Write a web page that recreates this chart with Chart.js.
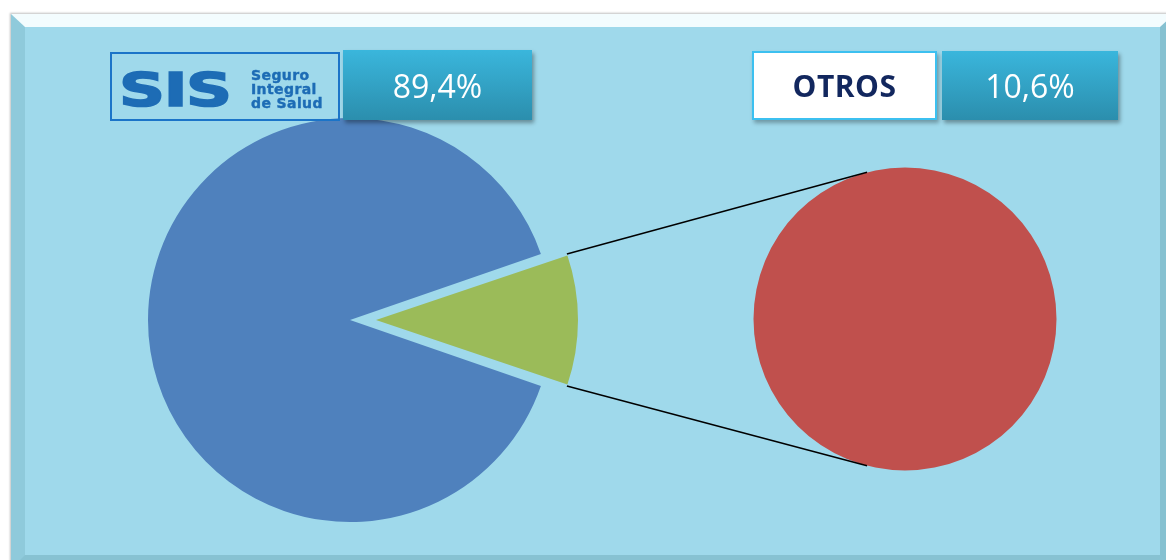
<!DOCTYPE html>
<html>
<head>
<meta charset="utf-8">
<script src="https://cdn.jsdelivr.net/npm/chart.js@4"></script>
<style>
    html, body { margin: 0; padding: 0; background: #ffffff; overflow: hidden; }
    #stage { position: relative; width: 1166px; height: 560px; overflow: hidden; }
    #frame {
        position: absolute; left: 11px; top: 14px; width: 1135px; height: 528px;
        background: #9fd9eb;
        border-style: solid; border-width: 13px 14px 14px 14px;
        border-color: #f3fcfe #86c1d1 #87c2d2 #8fcadb;
        box-shadow: -1px -1px 2px rgba(0, 0, 0, 0.25);
    }
    canvas { position: absolute; left: 0; top: 0; }
    .box { position: absolute; box-sizing: border-box; display: flex; align-items: center; justify-content: center; }
    .value {
        background: linear-gradient(#3ab6dc, #2b8ead);
        box-shadow: 2px 3px 4px rgba(0, 0, 0, 0.35);
        color: #ffffff; font-family: "Open Sans", sans-serif; font-size: 32px;
    }
    #logo { left: 110px; top: 52px; width: 230px; height: 69px; border: 2px solid #1b74c8; justify-content: flex-start; padding-top: 5px; }
    #logo .big {
        font-family: "DejaVu Sans", sans-serif; font-weight: bold; font-size: 47px; color: #1d6cb5;
        -webkit-text-stroke: 1.6px #1d6cb5;
        transform: scaleX(1.36); transform-origin: left center; margin-left: 7px; width: 128px; letter-spacing: -1px;
    }
    #logo .small {
        font-family: "DejaVu Sans", sans-serif; font-weight: bold; font-size: 14px; line-height: 14px;
        -webkit-text-stroke: 0.4px #1d6cb5;
        color: #1d6cb5; letter-spacing: 0.4px; margin-left: 4px;
    }
    #otrosName {
        left: 752px; top: 51px; width: 185px; height: 69px; background: #ffffff; border: 2px solid #3cc0f0;
        box-shadow: 2px 3px 4px rgba(0, 0, 0, 0.3);
        color: #12275e; font-family: "Open Sans", sans-serif; font-weight: bold; font-size: 30px; letter-spacing: 0.5px;
    }
</style>
</head>
<body>
<div id="stage">
    <div id="frame"></div>
    <canvas id="pieMain" width="1166" height="560"></canvas>
    <canvas id="pieSub" width="1166" height="560"></canvas>
    <div class="box" id="logo"><div class="big">SIS</div><div class="small">Seguro<br>Integral<br>de Salud</div></div>
    <div class="box value" id="sisValue" style="left:343px; top:50px; width:189px; height:70px;"></div>
    <div class="box" id="otrosName"></div>
    <div class="box value" id="otrosValue" style="left:942px; top:51px; width:176px; height:69px;"></div>
</div>
<script>
    // porcentaje de atenciones por financiador
    const categories = ['SIS', 'OTROS'];
    const shares = [89.4, 10.6];
    const subCategories = ['OTROS'];
    const subShares = [10.6];

    const colors = ['#4f81bd', '#9bbb59'];
    const subColor = '#c0504d';
    const explode = 104; // chart.js divides offset by 4
    const connectorTilt = 14.5 * Math.PI / 180;

    function pct(v) {
        return v.toFixed(1).replace('.', ',') + '%';
    }
    document.getElementById('sisValue').textContent = pct(shares[0]);
    document.getElementById('otrosName').textContent = categories[1];
    document.getElementById('otrosValue').textContent = pct(subShares[0]);

    // keep exploded slice the same radius as the rest of the pie
    const explodeFix = {
        id: 'explodeFix',
        afterUpdate(chart) {
            const arc = chart.getDatasetMeta(0).data[1];
            const fix = 1 - Math.sin(Math.min(Math.PI, arc.circumference));
            arc.outerRadius -= (explode / 4) * fix;
        }
    };

    const pieMain = new Chart(document.getElementById('pieMain'), {
        type: 'pie',
        data: {
            labels: categories,
            datasets: [{
                data: shares,
                backgroundColor: colors,
                borderWidth: 0,
                offset: [0, explode],
                hoverOffset: 0
            }]
        },
        options: {
            responsive: false,
            animation: false,
            events: [],
            rotation: 90 + shares[1] * 3.6 / 2,
            radius: 202,
            layout: { padding: { left: 0, right: 466, top: 80, bottom: 0 } },
            plugins: { legend: { display: false }, tooltip: { enabled: false } }
        },
        plugins: [explodeFix]
    });

    const connectors = {
        id: 'connectors',
        afterDatasetsDraw(chart) {
            const ctx = chart.ctx;
            const whole = pieMain.getDatasetMeta(0).data[0];
            const arc = pieMain.getDatasetMeta(0).data[1];
            const mid = (arc.startAngle + arc.endAngle) / 2;
            const gx = arc.x + Math.cos(mid) * explode / 4;
            const gy = arc.y + Math.sin(mid) * explode / 4;
            const R = whole.outerRadius;
            const sub = chart.getDatasetMeta(0).data[0];
            const ends = [
                [arc.startAngle, -Math.PI / 2 - connectorTilt],
                [arc.endAngle, Math.PI / 2 + connectorTilt]
            ];
            ctx.save();
            ctx.strokeStyle = '#000000';
            ctx.lineWidth = 1.5;
            ends.forEach(([a, b]) => {
                ctx.beginPath();
                ctx.moveTo(gx + Math.cos(a) * R, gy + Math.sin(a) * R);
                ctx.lineTo(sub.x + Math.cos(b) * sub.outerRadius, sub.y + Math.sin(b) * sub.outerRadius);
                ctx.stroke();
            });
            ctx.restore();
        }
    };

    new Chart(document.getElementById('pieSub'), {
        type: 'pie',
        data: {
            labels: subCategories,
            datasets: [{
                data: subShares,
                backgroundColor: [subColor],
                borderWidth: 0,
                hoverOffset: 0
            }]
        },
        options: {
            responsive: false,
            animation: false,
            events: [],
            radius: 151.5,
            layout: { padding: { left: 654, right: 10, top: 78, bottom: 0 } },
            plugins: { legend: { display: false }, tooltip: { enabled: false } }
        },
        plugins: [connectors]
    });
</script>
</body>
</html>
